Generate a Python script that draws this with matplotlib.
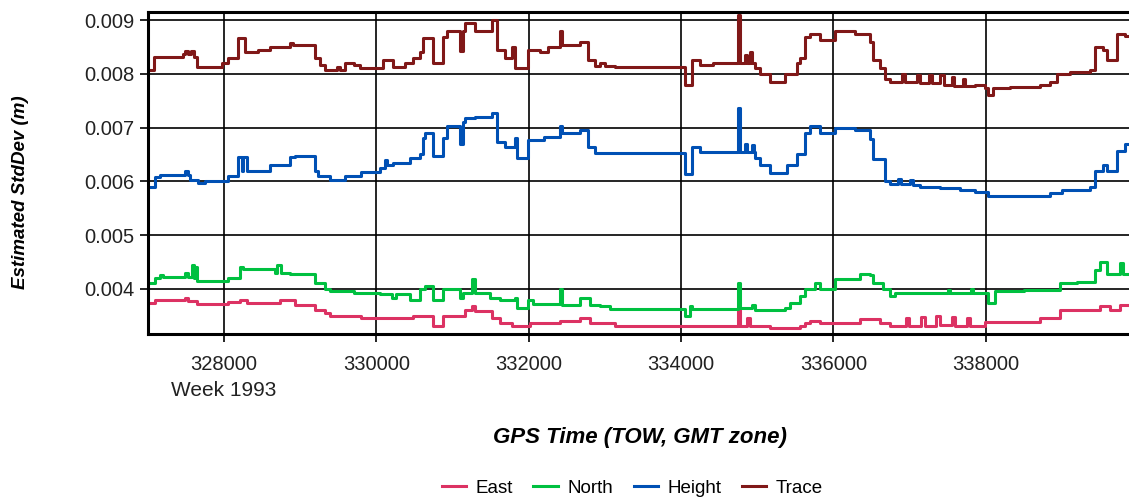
import matplotlib
matplotlib.use("Agg")
import matplotlib.pyplot as plt

plt.rcParams['font.family'] = ['Liberation Sans', 'DejaVu Sans']

# GPS time of week (s) and estimated std dev (m), step-wise series
trace_t = [327000, 327080, 327460, 327480, 327520, 327560, 327600, 327643, 327972, 328050,
           328182, 328274, 328450, 328602, 328865, 328900, 329193, 329260, 329324, 329482,
           329520, 329587, 329700, 329784, 330086, 330217, 330374, 330479, 330571, 330611,
           330742, 330873, 330926, 331097, 331136, 331162, 331294, 331517, 331582, 331687,
           331779, 331819, 331989, 332150, 332250, 332410, 332440, 332672, 332777, 332869,
           332935, 333000, 333131, 334051, 334143, 334248, 334418, 334747, 334773, 334839,
           334870, 334904, 334930, 334970, 335036, 335167, 335364, 335521, 335561, 335626,
           335692, 335823, 336020, 336283, 336480, 336519, 336611, 336677, 336742, 336900,
           336940, 337100, 337140, 337250, 337300, 337400, 337450, 337550, 337580, 337700,
           337730, 337860, 337990, 338029, 338095, 338318, 338712, 338843, 338935, 339100,
           339368, 339434, 339539, 339592, 339723, 339828, 340000]
trace_v = [0.00808, 0.00831, 0.00836, 0.00843, 0.00836, 0.00843, 0.00831, 0.00812, 0.00820, 0.00829,
           0.00866, 0.00840, 0.00845, 0.00850, 0.00858, 0.00853, 0.00830, 0.00816, 0.00807, 0.00812,
           0.00807, 0.00820, 0.00816, 0.00810, 0.00825, 0.00812, 0.00820, 0.00830, 0.00840, 0.00866,
           0.00820, 0.00868, 0.00880, 0.00842, 0.00880, 0.00894, 0.00880, 0.00900, 0.00844, 0.00830,
           0.00850, 0.00810, 0.00844, 0.00840, 0.00850, 0.00880, 0.00853, 0.00860, 0.00825, 0.00815,
           0.00820, 0.00815, 0.00812, 0.00780, 0.00825, 0.00816, 0.00820, 0.00910, 0.00820, 0.00835,
           0.00820, 0.00840, 0.00820, 0.00810, 0.00800, 0.00784, 0.00800, 0.00820, 0.00830, 0.00868,
           0.00875, 0.00863, 0.00880, 0.00875, 0.00860, 0.00825, 0.00810, 0.00790, 0.00785, 0.00800,
           0.00785, 0.00798, 0.00783, 0.00797, 0.00782, 0.00797, 0.00780, 0.00795, 0.00778, 0.00790,
           0.00777, 0.00780, 0.00773, 0.00760, 0.00773, 0.00775, 0.00780, 0.00785, 0.00800, 0.00803,
           0.00808, 0.00850, 0.00845, 0.00825, 0.00875, 0.00870, 0.00870]

height_t = [327000, 327092, 327158, 327486, 327520, 327551, 327656, 327748, 328050, 328182,
            328230, 328247, 328300, 328600, 328865, 328930, 329193, 329232, 329390, 329587,
            329800, 330046, 330112, 330140, 330217, 330440, 330571, 330611, 330637, 330742,
            330873, 330926, 331097, 331136, 331162, 331300, 331517, 331582, 331687, 331819,
            331845, 331989, 332200, 332410, 332440, 332672, 332777, 332869, 334051, 334143,
            334248, 334747, 334773, 334839, 334870, 334930, 334960, 334970, 335036, 335167,
            335390, 335521, 335626, 335692, 335823, 336020, 336283, 336480, 336519, 336677,
            336742, 336850, 336890, 337000, 337040, 337136, 337400, 337662, 337859, 338029,
            338843, 339000, 339368, 339434, 339539, 339592, 339723, 339828, 340000]
height_v = [0.00590, 0.00608, 0.00612, 0.00620, 0.00612, 0.00603, 0.00597, 0.00601, 0.00610, 0.00645,
            0.00620, 0.00645, 0.00620, 0.00630, 0.00645, 0.00648, 0.00620, 0.00610, 0.00603, 0.00610,
            0.00618, 0.00625, 0.00640, 0.00630, 0.00634, 0.00644, 0.00650, 0.00680, 0.00690, 0.00648,
            0.00680, 0.00703, 0.00670, 0.00710, 0.00717, 0.00720, 0.00728, 0.00673, 0.00664, 0.00680,
            0.00644, 0.00677, 0.00682, 0.00703, 0.00690, 0.00695, 0.00664, 0.00652, 0.00614, 0.00664,
            0.00654, 0.00736, 0.00654, 0.00670, 0.00654, 0.00668, 0.00654, 0.00644, 0.00630, 0.00616,
            0.00630, 0.00650, 0.00690, 0.00703, 0.00690, 0.00700, 0.00695, 0.00678, 0.00642, 0.00600,
            0.00595, 0.00605, 0.00595, 0.00603, 0.00593, 0.00590, 0.00587, 0.00583, 0.00580, 0.00573,
            0.00578, 0.00583, 0.00590, 0.00620, 0.00630, 0.00620, 0.00657, 0.00670, 0.00670]

north_t = [327000, 327092, 327158, 327200, 327486, 327530, 327580, 327600, 327620, 327643,
           328050, 328208, 328247, 328668, 328700, 328740, 328865, 329193, 329258, 329324,
           329390, 329700, 330046, 330200, 330250, 330440, 330571, 330637, 330742, 330873,
           331097, 331136, 331254, 331290, 331490, 331622, 331819, 331845, 331989, 332050,
           332410, 332440, 332672, 332803, 332935, 333066, 334051, 334116, 334143, 334747,
           334773, 334930, 334970, 335364, 335429, 335561, 335626, 335758, 335823, 336020,
           336349, 336480, 336519, 336651, 336742, 336808, 337500, 337530, 337800, 337830,
           338029, 338121, 338500, 338975, 339200, 339434, 339500, 339592, 339762, 339800,
           340000]
north_v = [0.00411, 0.00420, 0.00426, 0.00422, 0.00430, 0.00422, 0.00445, 0.00420, 0.00440, 0.00414,
           0.00420, 0.00440, 0.00436, 0.00430, 0.00445, 0.00430, 0.00428, 0.00411, 0.00410, 0.00400,
           0.00396, 0.00392, 0.00390, 0.00383, 0.00390, 0.00380, 0.00400, 0.00406, 0.00380, 0.00400,
           0.00383, 0.00392, 0.00418, 0.00392, 0.00383, 0.00380, 0.00383, 0.00365, 0.00380, 0.00372,
           0.00400, 0.00370, 0.00383, 0.00370, 0.00368, 0.00362, 0.00350, 0.00368, 0.00362, 0.00410,
           0.00364, 0.00370, 0.00360, 0.00364, 0.00373, 0.00387, 0.00400, 0.00410, 0.00400, 0.00418,
           0.00428, 0.00425, 0.00411, 0.00400, 0.00387, 0.00392, 0.00398, 0.00392, 0.00400, 0.00392,
           0.00373, 0.00396, 0.00398, 0.00410, 0.00413, 0.00435, 0.00450, 0.00427, 0.00448, 0.00427,
           0.00427]

east_t = [327000, 327092, 327486, 327530, 327643, 328050, 328208, 328300, 328733, 328930,
          329193, 329324, 329390, 329800, 330479, 330742, 330873, 331162, 331254, 331290,
          331517, 331622, 331779, 332016, 332410, 332672, 332803, 333131, 334248, 334747,
          334773, 334870, 334904, 335167, 335561, 335626, 335692, 335823, 336349, 336611,
          336742, 336950, 336990, 337150, 337200, 337350, 337400, 337550, 337600, 337750,
          337790, 337990, 338712, 338975, 339500, 339631, 339762, 340000]
east_v = [0.00374, 0.00380, 0.00383, 0.00378, 0.00372, 0.00375, 0.00380, 0.00373, 0.00380, 0.00370,
          0.00360, 0.00355, 0.00350, 0.00346, 0.00350, 0.00331, 0.00350, 0.00360, 0.00368, 0.00358,
          0.00345, 0.00337, 0.00330, 0.00337, 0.00340, 0.00345, 0.00337, 0.00331, 0.00330, 0.00360,
          0.00330, 0.00345, 0.00330, 0.00327, 0.00330, 0.00337, 0.00340, 0.00336, 0.00343, 0.00336,
          0.00330, 0.00345, 0.00330, 0.00348, 0.00330, 0.00350, 0.00332, 0.00347, 0.00330, 0.00345,
          0.00330, 0.00338, 0.00345, 0.00360, 0.00368, 0.00360, 0.00370, 0.00370]

x_ticks = [328000, 330000, 332000, 334000, 336000, 338000]
y_ticks = [0.004, 0.005, 0.006, 0.007, 0.008, 0.009]

fig = plt.figure(figsize=(11.29, 5.03), dpi=100)
ax = fig.add_axes([148 / 1129, (503 - 334) / 503, (1136 - 148) / 1129, (334 - 12) / 503])

ax.plot(east_t, east_v, drawstyle='steps-post', color='#DC3263', lw=2.2, label='East')
ax.plot(north_t, north_v, drawstyle='steps-post', color='#00C040', lw=2.2, label='North')
ax.plot(height_t, height_v, drawstyle='steps-post', color='#0050B4', lw=2.2, label='Height')
ax.plot(trace_t, trace_v, drawstyle='steps-post', color='#801818', lw=2.2, label='Trace')

ax.set_xlim(327000, 327000 + (1136 - 148) * 13.13)
ax.set_ylim(0.00316, 0.00915)
ax.set_xticks(x_ticks)
ax.set_yticks(y_ticks)
ax.set_xticklabels([str(t) for t in x_ticks])
ax.set_yticklabels(["%.3f" % v for v in y_ticks])
ax.grid(True, color='black', lw=1.2)
ax.set_axisbelow(True)
for side in ['left', 'bottom', 'top']:
    ax.spines[side].set_linewidth(2.2)
ax.spines['right'].set_visible(False)
ax.tick_params(axis='both', direction='out', length=6, width=1.2, labelsize=14.5,
               labelcolor='#222222')
ax.tick_params(axis='x', pad=9)

ax.set_ylabel('Estimated StdDev (m)', fontsize=13.5, fontstyle='italic', fontweight='bold')
ax.yaxis.set_label_coords(-(148 - 29) / (1136 - 148), (334 - 192) / 322)
fig.text(0.567, 1 - 438 / 503, 'GPS Time (TOW, GMT zone)', fontsize=16, fontstyle='italic',
         fontweight='bold', ha='center', va='center')
fig.text(224 / 1129, 1 - 390 / 503, 'Week 1993', fontsize=15, color='#222222',
         ha='center', va='center')

fig.legend(loc='center', bbox_to_anchor=(0.56, 1 - 488 / 503), ncol=4, frameon=False,
           fontsize=13.5, handlelength=1.3, columnspacing=1.1, handletextpad=0.5)

fig.savefig('out.png', dpi=100)
